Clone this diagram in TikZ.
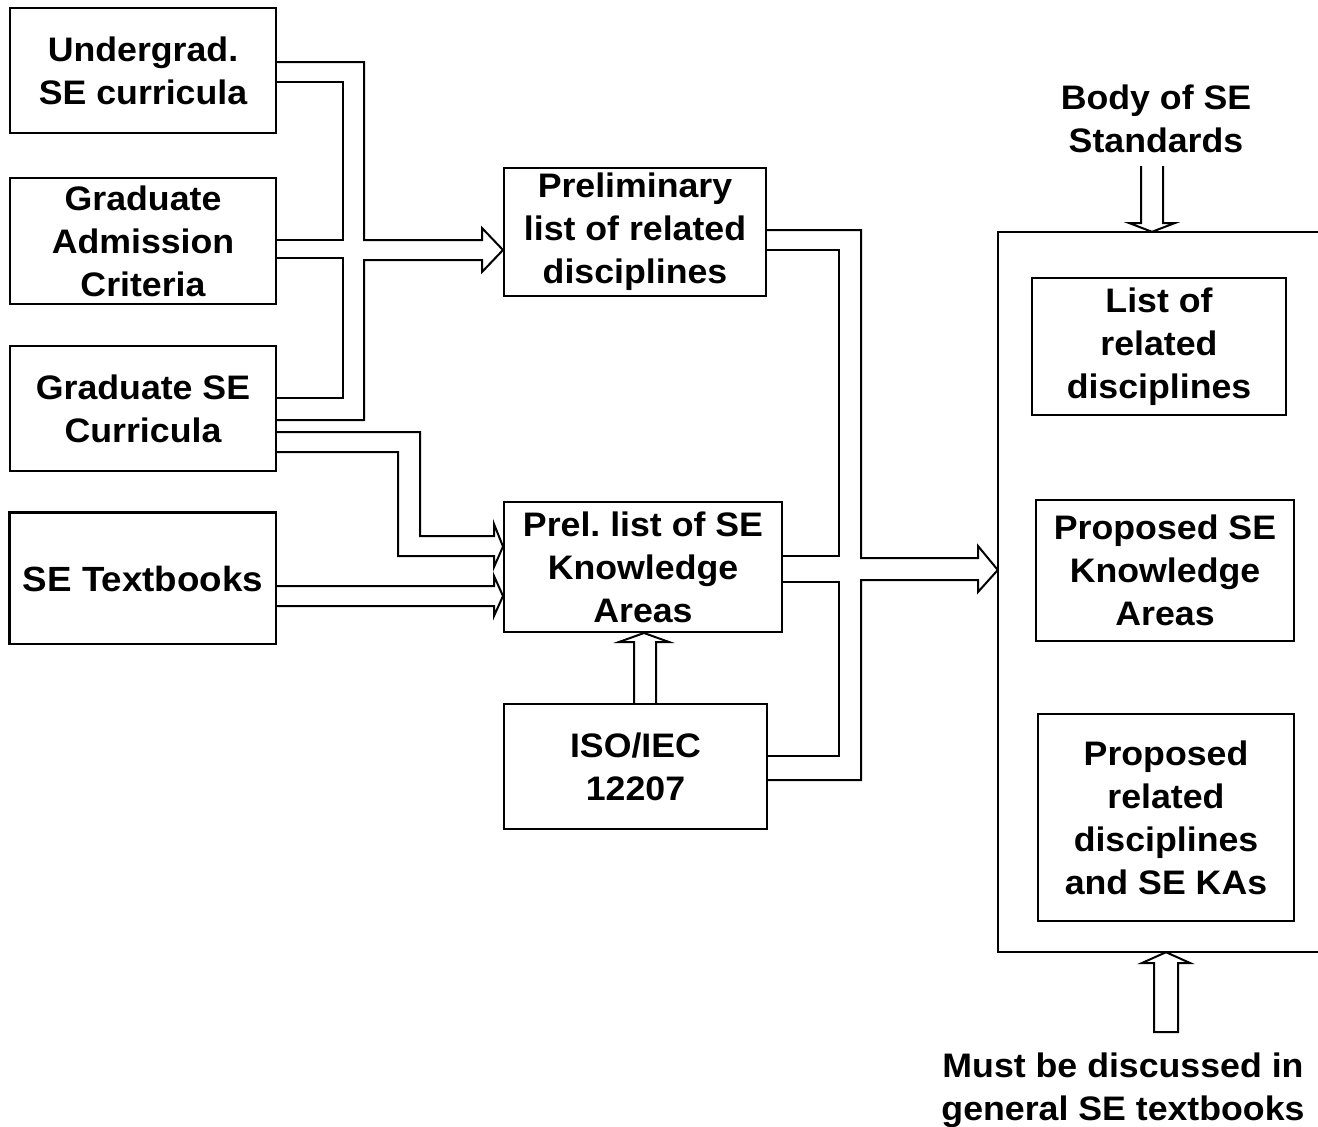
\documentclass[tikz,border=0pt]{standalone}
\usepackage{fontspec}
\newfontfamily\labfont{Liberation Sans}[FakeStretch=1.05]
\frenchspacing
\begin{document}
\begin{tikzpicture}[x=1pt, y=-1pt,
  box/.style={draw, line width=2pt, inner sep=0pt, align=center,
    font=\labfont\bfseries\fontsize{34}{43}\selectfont},
  lab/.style={inner sep=0pt, align=center,
    font=\labfont\bfseries\fontsize{34}{43}\selectfont},
  pipe/.style={draw, line width=2pt, line join=miter}]
\useasboundingbox (0,0) rectangle (1318,1127);

% source boxes
\node[box, minimum width=266pt, minimum height=125pt] (ug)  at (143,70.5)  {Undergrad.\\SE curricula};
\node[box, minimum width=266pt, minimum height=126pt] (gac) at (143,241)   {Graduate\\Admission\\Criteria};
\node[box, minimum width=266pt, minimum height=125pt] (gsc) at (143,408.5) {Graduate SE\\Curricula};
\node[box, minimum width=266pt, minimum height=131pt,
      font=\labfont\bfseries\fontsize{35}{43}\selectfont] (tb) at (143,578.5) {SE Textbooks};
\draw[line width=3pt] (tb.south west) -- (tb.north west) -- (tb.north east);

% intermediate boxes
\node[box, minimum width=262pt, minimum height=128pt] (pre) at (635,232)   {Preliminary\\list of related\\disciplines};
\node[box, minimum width=278pt, minimum height=130pt] (ka)  at (643,567)   {Prel. list of SE\\Knowledge\\Areas};
\node[box, minimum width=263pt, minimum height=125pt] (iso) at (635.5,766.5) {ISO/IEC\\12207};

% open result frame and its contents
\node[minimum width=322pt, minimum height=720pt, inner sep=0pt] (big) at (1159,592) {};
\draw[line width=2pt] (big.north east) -- (big.north west) -- (big.south west) -- (big.south east);
\node[box, minimum width=254pt, minimum height=137pt] (lrd) at (1159,346.5) {List of\\related\\disciplines};
\node[box, minimum width=258pt, minimum height=141pt] (psk) at (1165,570.5) {Proposed SE\\Knowledge\\Areas};
\node[box, minimum width=256pt, minimum height=207pt] (prd) at (1166,817.5) {Proposed\\related\\disciplines\\and SE KAs};

% free labels
\node[lab] (body) at (1156,119) {Body of SE\\Standards};
\node[lab] (must) at (1123,1090) {Must be discussed in\\general SE textbooks};

% curricula into the preliminary list
\draw[pipe] (ug.east |- 0,62) -| (364,240) -- (482,240) -- (482,228)
  -- (pre.west |- 0,250) -- (482,272) -- (482,260) -- (364,260) |- (gsc.east |- 0,420);
\draw[pipe] (ug.east |- 0,82) -| (343,240) -- (gac.east |- 0,240);
\draw[pipe] (gac.east |- 0,258) -| (343,398) -- (gsc.east |- 0,398);

% graduate curricula into the knowledge areas
\draw[pipe] (gsc.east |- 0,432) -| (420,536) -- (494,536) -- (494,524)
  -- (ka.west |- 0,546.5) -- (494,567) -- (494,556) -- (398,556) |- (gsc.east |- 0,452);

% textbooks into the knowledge areas
\draw[pipe] (tb.east |- 0,586) -- (494,586) -- (494,576)
  -- (ka.west |- 0,596) -- (494,616) -- (494,606) -- (tb.east |- 0,606);

% ISO/IEC 12207 up into the knowledge areas
\draw[pipe] (iso.north -| 634,0) -- (634,642) -- (619,642)
  -- (ka.south -| 644,0) -- (669,642) -- (656,642) -- (iso.north -| 656,0);

% preliminary lists and standard into the result frame
\draw[pipe] (pre.east |- 0,230) -| (861,558) -- (978,558) -- (978,546)
  -- (big.west |- 0,570) -- (978,592) -- (978,580) -- (861,580) |- (iso.east |- 0,780);
\draw[pipe] (pre.east |- 0,250) -| (839,556) -- (ka.east |- 0,556);
\draw[pipe] (ka.east |- 0,582) -| (839,756) -- (iso.east |- 0,756);

% standards arrow down into the frame
\draw[pipe] (1141,166) -- (1141,223) -- (1129,223) -- (big.north -| 1152,0)
  -- (1175,223) -- (1163,223) -- (1163,166);

% textbooks arrow up into the frame
\draw[pipe] (1154,1032) -- (1154,963) -- (1142,963) -- (big.south -| 1166,0)
  -- (1190,963) -- (1178,963) -- (1178,1032) -- cycle;
\end{tikzpicture}
\end{document}
